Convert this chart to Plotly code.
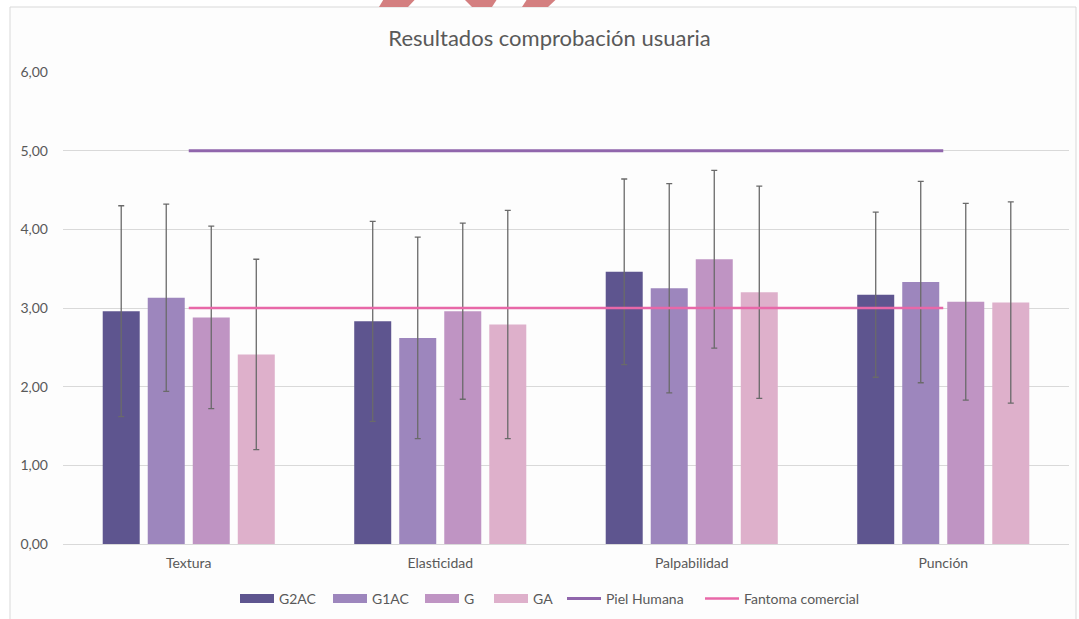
import plotly.graph_objects as go

categories = ["Textura", "Elasticidad", "Palpabilidad", "Punción"]
series_names = ["G2AC", "G1AC", "G", "GA"]
g2ac = [2.96, 2.83, 3.46, 3.17]
g1ac = [3.13, 2.62, 3.25, 3.33]
g = [2.88, 2.96, 3.62, 3.08]
ga = [2.41, 2.79, 3.20, 3.07]
g2ac_err = [1.34, 1.27, 1.18, 1.05]
g1ac_err = [1.19, 1.28, 1.33, 1.28]
g_err = [1.16, 1.12, 1.13, 1.25]
ga_err = [1.21, 1.45, 1.35, 1.28]
piel_humana = [5.0, 5.0, 5.0, 5.0]
fantoma_comercial = [3.0, 3.0, 3.0, 3.0]
tick_vals = [0, 1, 2, 3, 4, 5, 6]

bar_colors = ["#5E558F", "#9D86BD", "#BF94C3", "#DEB0CB"]
line_names = ["Piel Humana", "Fantoma comercial"]
line_colors = ["#9066AC", "#E868A8"]
line_widths = [3, 2.5]
values = [g2ac, g1ac, g, ga]
errors = [g2ac_err, g1ac_err, g_err, ga_err]
line_values = [piel_humana, fantoma_comercial]

FONT = "Lato"
TXT = "#595959"

fig = go.Figure()
for name, vals, errs, col in zip(series_names, values, errors, bar_colors):
    fig.add_trace(go.Bar(
        name=name, x=categories, y=vals, marker_color=col,
        marker_line_width=0, showlegend=False,
        error_y=dict(type="data", array=errs, visible=True,
                     color="#6A6A6A", thickness=1.3, width=3),
    ))
for name, vals, col, w in zip(line_names, line_values, line_colors, line_widths):
    fig.add_trace(go.Scatter(name=name, x=categories, y=vals, mode="lines",
                             line=dict(color=col, width=w), showlegend=False))

# legend entries, each in its own legend so spacing matches the original
legend_ids = ["legend", "legend2", "legend3", "legend4", "legend5", "legend6"]
entry_names = series_names + line_names
entry_colors = bar_colors + line_colors
entry_widths = [9, 9, 9, 9] + line_widths
entry_x = [240, 333, 425, 494, 567, 705]  # swatch start (screen px)

for lid, name, col, w in zip(legend_ids, entry_names, entry_colors, entry_widths):
    fig.add_trace(go.Scatter(name=name, x=[None], y=[None], mode="lines",
                             line=dict(color=col, width=w), legend=lid))

W, H = 1079, 619
L, T = 63, 72
pw, ph = 1006, 472
R = W - L - pw
B = H - T - ph

def px(sx):
    return (sx - L) / pw

def py(sy):
    return (T + ph - sy) / ph

shapes = [
    dict(type="rect", xref="paper", yref="paper",
         x0=px(10), x1=px(1076), y0=py(660), y1=py(7),
         fillcolor="#FDFDFD", line=dict(color="#D9D9D9", width=1), layer="below"),
]
stripe = "#D47F80"
polys = [
    [(389, -10), (424, -10), (408, 7), (379, 7)],
    [(455, -10), (503, -10), (492, 7), (472, 7)],
    [(533, -10), (566, -10), (548, 7), (522, 7)],
]
for poly in polys:
    path = "M " + " L ".join(f"{px(a):.5f},{py(b):.5f}" for a, b in poly) + " Z"
    shapes.append(dict(type="path", xref="paper", yref="paper", path=path,
                       fillcolor=stripe, line=dict(width=0), layer="above"))

legend_layout = {}
for lid, ex in zip(legend_ids, entry_x):
    legend_layout[lid] = dict(
        orientation="h", xref="container", yref="container",
        x=(ex - 5) / W, xanchor="left", y=1 - 599 / H, yanchor="middle",
        font=dict(size=14, color=TXT, family=FONT), bgcolor="rgba(0,0,0,0)",
        itemwidth=34, borderwidth=0,
    )

fig.update_layout(
    width=W, height=H,
    margin=dict(l=L, r=R, t=T, b=B),
    paper_bgcolor="white", plot_bgcolor="rgba(0,0,0,0)",
    separators=",.",
    barmode="group", bargap=0.284, bargroupgap=0.178,
    font=dict(family=FONT, color=TXT, size=14),
    title=dict(text="Resultados comprobación usuaria", x=549.5 / W, xanchor="center",
               xref="container", y=1 - 38 / H, yanchor="middle",
               font=dict(family=FONT, size=22, color=TXT)),
    xaxis=dict(showgrid=False, showline=False, ticks="", ticklabelstandoff=9,
               tickfont=dict(size=14, color=TXT)),
    yaxis=dict(range=[0, 6], tickvals=tick_vals, tickformat=".2f",
               showgrid=True, gridcolor="#D9D9D9", gridwidth=1,
               zeroline=True, zerolinecolor="#D9D9D9", zerolinewidth=1,
               ticks="", ticklabelstandoff=14, tickfont=dict(size=14, color=TXT)),
    shapes=shapes,
    showlegend=True,
    **legend_layout,
)

fig.write_html("out.html", config={"displayModeBar": False},
               post_script="document.body.style.margin='0';document.body.style.padding='0';")
